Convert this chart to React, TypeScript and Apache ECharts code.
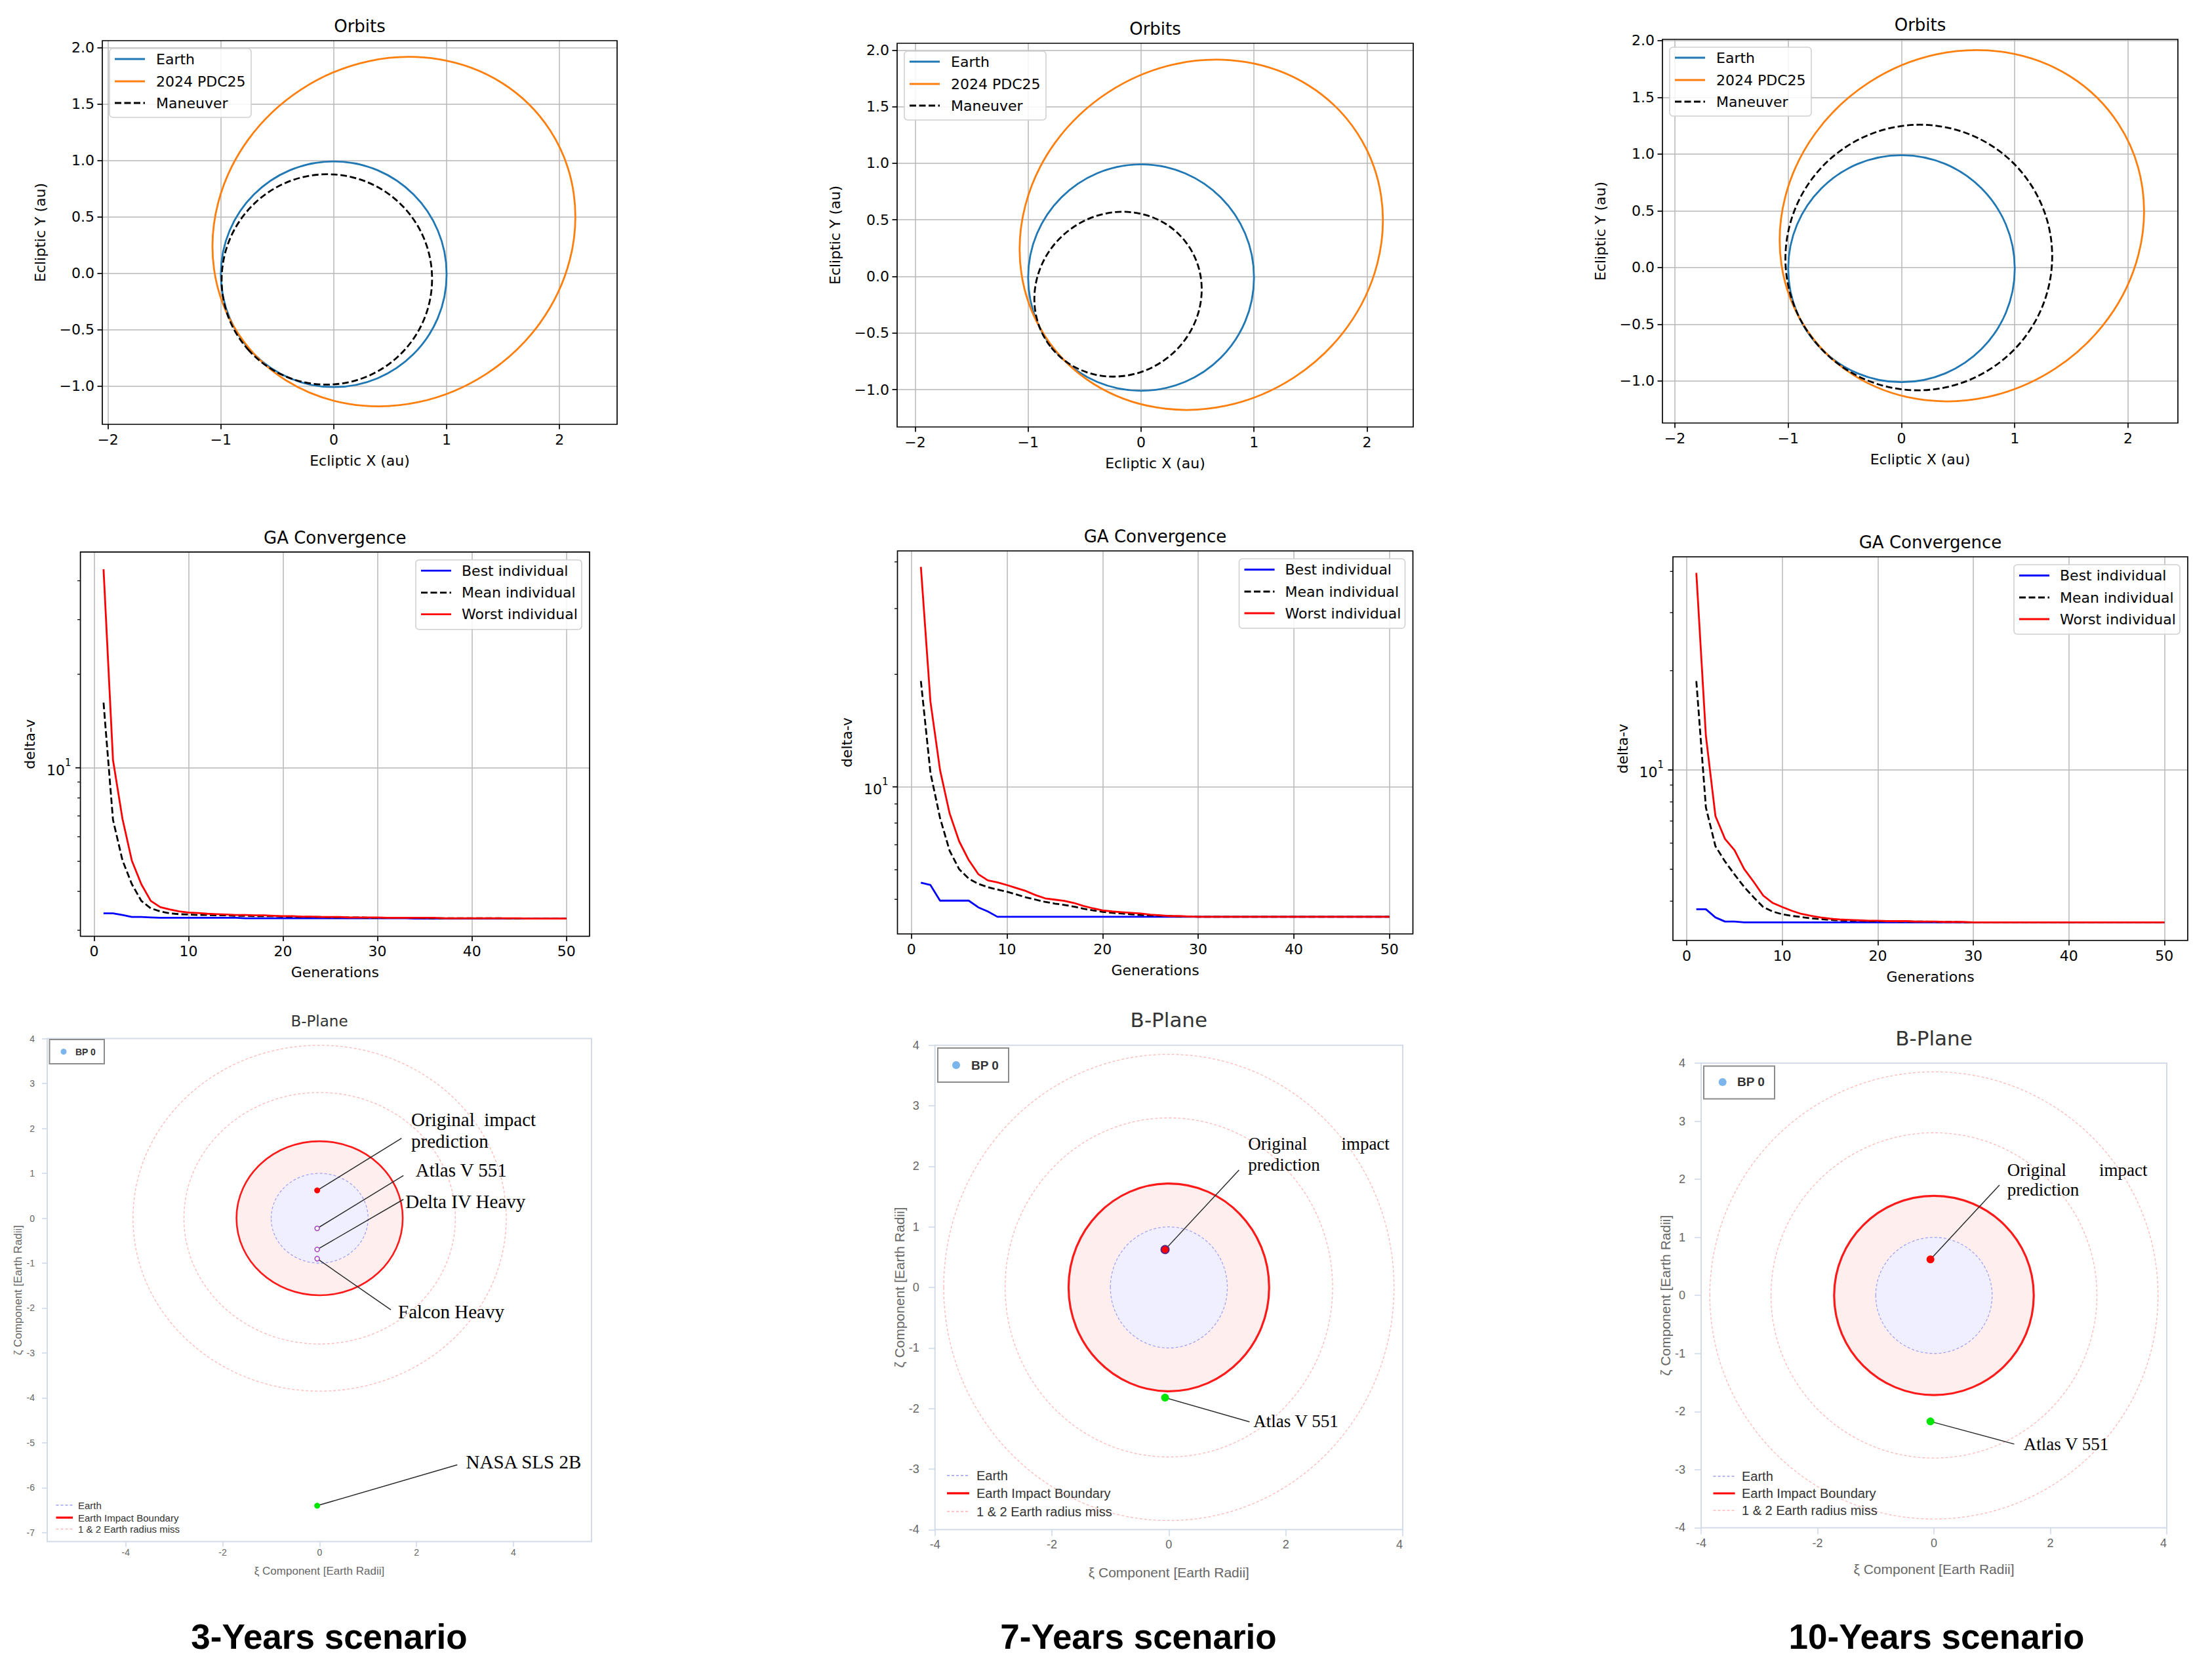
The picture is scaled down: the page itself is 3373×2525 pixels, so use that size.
import React, { useEffect, useRef } from "react";
import * as echarts from "echarts";

// ===================== DATA =====================
const scenarioLabels = ["3-Years scenario", "7-Years scenario", "10-Years scenario"];

// Orbits: [centre x, centre y, semi-axis a, semi-axis b, tilt in degrees] (au)
const earthOrbit = [0, -0.01, 1.0, 1.0, 0];
const asteroidOrbit = [0.533, 0.368, 1.648, 1.503, 33.0];
const maneuverOrbit3y = [-0.061, -0.056, 0.934, 0.93, 42.5];
const maneuverOrbit7y = [-0.204, -0.157, 0.757, 0.712, 37.6];
const maneuverOrbit10y = [0.153, 0.088, 1.18, 1.167, 29.9];
const orbitXTicks = [-2, -1, 0, 1, 2];
const orbitYTicks = [-1, -0.5, 0, 0.5, 1, 1.5, 2];

// GA convergence (delta-v per generation)
const generations = [
  1, 2, 3, 4, 5, 6, 7, 8, 9, 10, 11, 12, 13, 14, 15, 16, 17, 18, 19, 20, 21, 22, 23, 24, 25,
  26, 27, 28, 29, 30, 31, 32, 33, 34, 35, 36, 37, 38, 39, 40, 41, 42, 43, 44, 45, 46, 47, 48, 49, 50,
];
const best3y = [
  3.4, 3.4, 3.36, 3.31, 3.31, 3.3, 3.29, 3.29, 3.29, 3.29, 3.29, 3.29, 3.29, 3.29, 3.29, 3.28, 3.28,
  3.28, 3.28, 3.28, 3.28, 3.28, 3.28, 3.28, 3.28, 3.28, 3.28, 3.28, 3.28, 3.28, 3.28, 3.28, 3.28, 3.27,
  3.27, 3.27, 3.27, 3.27, 3.27, 3.27, 3.27, 3.27, 3.27, 3.27, 3.27, 3.27, 3.27, 3.27, 3.27, 3.27,
];
const mean3y = [
  16.2, 6.8, 5.04, 4.22, 3.73, 3.53, 3.45, 3.4, 3.38, 3.37, 3.36, 3.36, 3.35, 3.35, 3.34, 3.34, 3.33,
  3.33, 3.33, 3.32, 3.32, 3.31, 3.31, 3.31, 3.3, 3.3, 3.3, 3.3, 3.29, 3.29, 3.29, 3.29, 3.29, 3.29,
  3.28, 3.28, 3.28, 3.28, 3.28, 3.28, 3.28, 3.28, 3.28, 3.27, 3.27, 3.27, 3.27, 3.27, 3.27, 3.27,
];
const worst3y = [
  43.6, 10.6, 6.86, 5.02, 4.22, 3.73, 3.56, 3.5, 3.45, 3.42, 3.41, 3.39, 3.38, 3.37, 3.36, 3.36, 3.35,
  3.35, 3.34, 3.33, 3.33, 3.32, 3.32, 3.31, 3.31, 3.31, 3.3, 3.3, 3.3, 3.3, 3.29, 3.29, 3.29, 3.29,
  3.29, 3.29, 3.28, 3.28, 3.28, 3.28, 3.28, 3.28, 3.28, 3.28, 3.28, 3.27, 3.27, 3.27, 3.27, 3.27,
];
const best7y = [
  5.54, 5.46, 4.96, 4.96, 4.96, 4.96, 4.76, 4.64, 4.49, 4.49, 4.49, 4.49, 4.49, 4.49, 4.49, 4.49, 4.49,
  4.49, 4.49, 4.49, 4.49, 4.49, 4.49, 4.49, 4.49, 4.49, 4.49, 4.49, 4.49, 4.49, 4.49, 4.49, 4.49, 4.49,
  4.49, 4.49, 4.49, 4.49, 4.49, 4.49, 4.49, 4.49, 4.49, 4.49, 4.49, 4.49, 4.49, 4.49, 4.49, 4.49,
];
const mean7y = [
  19.2, 10.9, 8.26, 6.75, 6.02, 5.68, 5.5, 5.39, 5.31, 5.24, 5.15, 5.06, 4.99, 4.92, 4.87, 4.83, 4.78,
  4.72, 4.67, 4.63, 4.6, 4.58, 4.56, 4.54, 4.53, 4.52, 4.51, 4.5, 4.5, 4.49, 4.49, 4.49, 4.49, 4.49,
  4.49, 4.49, 4.49, 4.49, 4.49, 4.49, 4.49, 4.49, 4.49, 4.49, 4.49, 4.49, 4.49, 4.49, 4.49, 4.49,
];
const worst7y = [
  38.8, 16.9, 11.1, 8.5, 7.15, 6.37, 5.84, 5.62, 5.55, 5.46, 5.36, 5.26, 5.13, 5.03, 4.99, 4.95, 4.89,
  4.8, 4.73, 4.67, 4.64, 4.62, 4.6, 4.58, 4.55, 4.53, 4.51, 4.51, 4.5, 4.49, 4.49, 4.49, 4.49, 4.49,
  4.49, 4.49, 4.49, 4.49, 4.49, 4.49, 4.49, 4.49, 4.49, 4.49, 4.49, 4.49, 4.49, 4.49, 4.49, 4.49,
];
const best10y = [
  3.78, 3.78, 3.57, 3.47, 3.47, 3.45, 3.45, 3.45, 3.45, 3.45, 3.45, 3.45, 3.45, 3.45, 3.45, 3.45, 3.45,
  3.45, 3.45, 3.45, 3.45, 3.45, 3.45, 3.45, 3.45, 3.45, 3.45, 3.45, 3.45, 3.45, 3.45, 3.45, 3.45, 3.45,
  3.45, 3.45, 3.45, 3.45, 3.45, 3.45, 3.45, 3.45, 3.45, 3.45, 3.45, 3.45, 3.45, 3.45, 3.45, 3.45,
];
const mean10y = [
  18.6, 7.7, 5.87, 5.28, 4.82, 4.42, 4.11, 3.84, 3.72, 3.65, 3.61, 3.58, 3.55, 3.53, 3.51, 3.5, 3.49,
  3.49, 3.48, 3.48, 3.48, 3.47, 3.47, 3.47, 3.47, 3.46, 3.46, 3.46, 3.45, 3.45, 3.45, 3.45, 3.45, 3.45,
  3.45, 3.45, 3.45, 3.45, 3.45, 3.45, 3.45, 3.45, 3.45, 3.45, 3.45, 3.45, 3.45, 3.45, 3.45, 3.45,
];
const worst10y = [
  39.6, 12.7, 7.25, 6.18, 5.71, 5.01, 4.58, 4.16, 3.95, 3.84, 3.74, 3.66, 3.61, 3.57, 3.54, 3.52, 3.51,
  3.5, 3.49, 3.49, 3.48, 3.48, 3.48, 3.47, 3.47, 3.47, 3.46, 3.46, 3.46, 3.45, 3.45, 3.45, 3.45, 3.45,
  3.45, 3.45, 3.45, 3.45, 3.45, 3.45, 3.45, 3.45, 3.45, 3.45, 3.45, 3.45, 3.45, 3.45, 3.45, 3.45,
];
const gaXTicks = [0, 10, 20, 30, 40, 50];
const gaMajorTicks = [10];
const gaMinorTicks = [2, 3, 4, 5, 6, 7, 8, 9, 20, 30, 40];

// B-plane (Earth radii)
const bpCenter = [0, 0];
const bpCircleRadii = [1, 1.715, 2.8, 3.85]; // Earth, impact boundary, +1 / +2 radius miss
const bp3yOriginal = [-0.05, 0.62];
const bp3yAtlas = [-0.05, -0.226];
const bp3yDelta = [-0.05, -0.695];
const bp3yFalcon = [-0.05, -0.9];
const bp3ySLS = [-0.05, -6.4];
const bp7yOriginal = [-0.065, 0.625];
const bp7yAtlas = [-0.065, -1.82];
const bp10yOriginal = [-0.06, 0.62];
const bp10yAtlas = [-0.06, -2.17];
const bpXTicks = [-4, -2, 0, 2, 4];
const bpYTicks3y = [-7, -6, -5, -4, -3, -2, -1, 0, 1, 2, 3, 4];
const bpYTicks = [-4, -3, -2, -1, 0, 1, 2, 3, 4];

// ===================== STYLE / LAYOUT =====================
const FONT_MPL = "'DejaVu Sans', 'Liberation Sans', sans-serif";
const FONT_HC = "'Liberation Sans', Arial, sans-serif";
const FONT_SERIF = "'Liberation Serif', 'Times New Roman', serif";

const near = (a: number, b: number) => Math.abs(a - b) < 1e-6;
const inTicks = (ticks: number[], v: number) => ticks.some((t) => near(t, v));
const mplMinus = (s: string) => s.replace("-", "\u2212");

function gText(x: number, y: number, text: string, size: number, family: string, opt: any = {}) {
  const align = opt.align || "left";
  return {
    type: "text",
    x,
    y,
    z: 20,
    silent: true,
    style: {
      text,
      fill: opt.color || "#000",
      fontSize: size,
      fontFamily: family,
      fontWeight: opt.weight || "normal",
      align,
      textAlign: align,
      verticalAlign: "middle",
      textVerticalAlign: "middle",
    },
  };
}

function ellipseSeries(gi: number, name: string, params: number[], color: string, dash: number[] | null, z: number) {
  return {
    type: "custom",
    name,
    xAxisIndex: gi,
    yAxisIndex: gi,
    coordinateSystem: "cartesian2d",
    silent: true,
    clip: true,
    z,
    data: [params],
    renderItem: (_p: any, api: any) => {
      const c = api.coord([api.value(0), api.value(1)]);
      const s = api.size([api.value(2), api.value(3)]);
      const style: any = { fill: "none", stroke: color, lineWidth: 2.8 };
      if (dash) style.lineDash = dash;
      return {
        type: "ellipse",
        x: c[0],
        y: c[1],
        rotation: (api.value(4) * Math.PI) / 180,
        shape: { cx: 0, cy: 0, rx: s[0], ry: s[1] },
        style,
      };
    },
  };
}

function circleSeries(gi: number, name: string, r: number, style: any, z: number) {
  return {
    type: "custom",
    name,
    xAxisIndex: gi,
    yAxisIndex: gi,
    coordinateSystem: "cartesian2d",
    silent: true,
    clip: true,
    z,
    data: [[bpCenter[0], bpCenter[1], r]],
    renderItem: (_p: any, api: any) => {
      const c = api.coord([api.value(0), api.value(1)]);
      const s = api.size([api.value(2), api.value(2)]);
      return { type: "ellipse", shape: { cx: c[0], cy: c[1], rx: s[0], ry: s[1] }, style };
    },
  };
}

function mplAxis(
  gi: number,
  dim: "x" | "y",
  range: number[],
  ticks: number[] | null,
  fmt: (v: number) => string,
  name: string,
  nameGap: number,
  log = false,
  extraLabel: any = {}
) {
  const ax: any = {
    type: log ? "log" : "value",
    gridIndex: gi,
    min: range[0],
    max: range[1],
    position: dim === "x" ? "bottom" : "left",
    axisLine: { show: false, onZero: false },
    axisTick: { show: !log, inside: false, length: 7.5, lineStyle: { color: "#000", width: 1.7 } },
    axisLabel: {
      show: true,
      margin: 12,
      color: "#000",
      fontFamily: FONT_MPL,
      fontSize: 22,
      formatter: (v: number) => (ticks ? (inTicks(ticks, v) ? fmt(v) : "") : fmt(v)),
      ...extraLabel,
    },
    splitLine: { show: true, lineStyle: { color: "#b7b7b7", width: 1.5 } },
    name,
    nameLocation: "middle",
    nameGap,
    nameMoveOverlap: false,
    nameTextStyle: { fontFamily: FONT_MPL, fontSize: 22, color: "#000" },
  };
  if (log) ax.logBase = 10;
  if (ticks) {
    ax.axisTick.customValues = ticks;
    ax.axisLabel.customValues = ticks;
  }
  return ax;
}

function mplLegend(
  graphic: any[],
  bx: number,
  by: number,
  bw: number,
  bh: number,
  entries: { label: string; color: string; dash?: number[] }[],
  rows: number[],
  lx0: number,
  lx1: number,
  tx: number
) {
  graphic.push({
    type: "rect",
    z: 15,
    silent: true,
    shape: { x: bx, y: by, width: bw, height: bh, r: 5 },
    style: { fill: "rgba(255,255,255,0.85)", stroke: "#d0d0d0", lineWidth: 1.6 },
  });
  entries.forEach((e, i) => {
    const y = by + rows[i];
    const st: any = { stroke: e.color, lineWidth: 2.8 };
    if (e.dash) st.lineDash = e.dash;
    graphic.push({ type: "line", z: 16, silent: true, shape: { x1: bx + lx0, y1: y, x2: bx + lx1, y2: y }, style: st });
    graphic.push(gText(bx + tx, y, e.label, 22, FONT_MPL));
  });
}

function buildOption() {
  const grid: any[] = [];
  const xAxis: any[] = [];
  const yAxis: any[] = [];
  const series: any[] = [];
  const title: any[] = [];
  const graphic: any[] = [];

  const mplGrid = { show: true, borderColor: "#000", borderWidth: 1.7, backgroundColor: "transparent", z: 5, outerBoundsMode: "none" };
  const addGrid = (r: any, st: any) => {
    grid.push({ ...r, ...st });
    return grid.length - 1;
  };
  const mplTitle = (text: string, cx: number, cy: number) =>
    title.push({
      text,
      left: cx,
      top: cy,
      textAlign: "center",
      textVerticalAlign: "middle",
      padding: 0,
      textStyle: { fontFamily: FONT_MPL, fontSize: 26, fontWeight: "normal", color: "#000" },
    });

  // ---------- Row 1: Orbits ----------
  const orbitLayouts = [
    { rect: { left: 156, top: 62, width: 785, height: 585 }, x: [-2.05, 2.51], y: [-1.34, 2.06] },
    { rect: { left: 1368, top: 66, width: 787, height: 585 }, x: [-2.16, 2.41], y: [-1.33, 2.06] },
    { rect: { left: 2535, top: 60, width: 786, height: 585 }, x: [-2.11, 2.44], y: [-1.37, 2.01] },
  ];
  const maneuvers = [maneuverOrbit3y, maneuverOrbit7y, maneuverOrbit10y];
  orbitLayouts.forEach((L, k) => {
    const gi = addGrid(L.rect, mplGrid);
    xAxis.push(mplAxis(gi, "x", L.x, orbitXTicks, (v) => mplMinus(String(Math.round(v))), "Ecliptic X (au)", 44));
    yAxis.push(mplAxis(gi, "y", L.y, orbitYTicks, (v) => mplMinus(v.toFixed(1)), "Ecliptic Y (au)", 84));
    series.push(ellipseSeries(gi, "Earth", earthOrbit, "#1f77b4", null, 2));
    series.push(ellipseSeries(gi, "2024 PDC25", asteroidOrbit, "#ff7f0e", null, 3));
    series.push(ellipseSeries(gi, "Maneuver", maneuvers[k], "#000000", [10, 4.5], 4));
    mplTitle("Orbits", L.rect.left + L.rect.width / 2, L.rect.top - 22);
    mplLegend(
      graphic,
      L.rect.left + 11,
      L.rect.top + 12,
      216,
      105,
      [
        { label: "Earth", color: "#1f77b4" },
        { label: "2024 PDC25", color: "#ff7f0e" },
        { label: "Maneuver", color: "#000", dash: [10, 4.5] },
      ],
      [16, 50, 83],
      8,
      54,
      71
    );
  });

  // ---------- Row 2: GA convergence ----------
  const gaLayouts = [
    { rect: { left: 122.6, top: 841.7, width: 776.4, height: 585.8 }, y: [2.87, 49.5] },
    { rect: { left: 1368.5, top: 840, width: 786, height: 584 }, y: [4.04, 42.8] },
    { rect: { left: 2551, top: 849, width: 785, height: 585 }, y: [3.04, 44.3] },
  ];
  const gaX = [-1.45, 52.45];
  const gaSets = [
    [best3y, mean3y, worst3y],
    [best7y, mean7y, worst7y],
    [best10y, mean10y, worst10y],
  ];
  gaLayouts.forEach((L, k) => {
    const gi = addGrid(L.rect, mplGrid);
    xAxis.push(mplAxis(gi, "x", gaX, gaXTicks, (v) => String(Math.round(v)), "Generations", 44));
    yAxis.push(
      mplAxis(gi, "y", L.y, null, (v) => (near(v, 10) ? "{a|10}{b|1}" : ""), "delta-v", 66, true, {
        margin: 14,
        rich: {
          a: { fontFamily: FONT_MPL, fontSize: 22, color: "#000", lineHeight: 30, verticalAlign: "bottom" },
          b: { fontFamily: FONT_MPL, fontSize: 15, color: "#000", lineHeight: 16, verticalAlign: "top" },
        },
      })
    );
    const [best, mean, worst] = gaSets[k];
    const mk = (name: string, arr: number[], color: string, type: any, z: number) => ({
      type: "line",
      name,
      xAxisIndex: gi,
      yAxisIndex: gi,
      data: generations.map((g, i) => [g, arr[i]]),
      showSymbol: false,
      symbol: "none",
      silent: true,
      z,
      lineStyle: { color, width: 2.8, type },
    });
    series.push(mk("Best individual", best, "#0000ff", "solid", 3));
    series.push(mk("Mean individual", mean, "#000000", [10, 4.5], 3));
    series.push(mk("Worst individual", worst, "#ff0000", "solid", 4));
    // log-axis tick marks (major at 10, minor at 2..9, 20..90)
    const tickData = gaMinorTicks
      .filter((v) => v > L.y[0] && v < L.y[1])
      .map((v) => [0, v, 0])
      .concat(gaMajorTicks.map((v) => [0, v, 1]));
    series.push({
      type: "custom",
      xAxisIndex: gi,
      yAxisIndex: gi,
      coordinateSystem: "cartesian2d",
      silent: true,
      clip: false,
      z: 6,
      data: tickData,
      renderItem: (params: any, api: any) => {
        const y = api.coord([0, api.value(1)])[1];
        const x = params.coordSys.x;
        const major = api.value(2) === 1;
        const len = major ? 7.5 : 4.5;
        return {
          type: "line",
          shape: { x1: x - len, y1: y, x2: x, y2: y },
          style: { stroke: "#000", lineWidth: major ? 1.7 : 1.3 },
        };
      },
    });
    mplTitle("GA Convergence", L.rect.left + L.rect.width / 2, L.rect.top - 22);
    const bw = 253;
    mplLegend(
      graphic,
      L.rect.left + L.rect.width - 12 - bw,
      L.rect.top + 12,
      bw,
      106,
      [
        { label: "Best individual", color: "#0000ff" },
        { label: "Mean individual", color: "#000", dash: [10, 4.5] },
        { label: "Worst individual", color: "#ff0000" },
      ],
      [16.5, 50, 83],
      8,
      54,
      70
    );
  });

  // ---------- Row 3: B-plane ----------
  const bpLayouts = [
    {
      rect: { left: 72, top: 1583.6, width: 830, height: 767 },
      x: [-5.62, 5.61],
      y: [-7.2, 4],
      yTicks: bpYTicks3y,
      tickFont: 14,
      titleFont: 23,
      titleDy: 27,
      nameFont: 17,
      nameGapX: 36,
      nameGapY: 36,
      marginX: 9,
      marginY: 19,
      tickLen: 8,
      annFont: 29,
      legFont: 15,
      legLine: [13.5, 39],
      legText: 47,
      legRows: [-55.6, -36.6, -19.1],
      bp0: { dx: 3.5, dy: 1.4, w: 83.5, h: 37, dot: [21.5, 18.5], r: 4.5, tx: 39.5, font: 14 },
    },
    {
      rect: { left: 1425.7, top: 1593.7, width: 713.3, height: 738.6 },
      x: [-4, 4],
      y: [-4, 4],
      yTicks: bpYTicks,
      tickFont: 18,
      titleFont: 31,
      titleDy: 38.7,
      nameFont: 21,
      nameGapX: 55,
      nameGapY: 44,
      marginX: 14,
      marginY: 24,
      tickLen: 10,
      annFont: 27,
      legFont: 20,
      legLine: [18.3, 52.3],
      legText: 63.3,
      legRows: [-82.5, -55.4, -27.7],
      bp0: { dx: 4.3, dy: 4.3, w: 108, h: 52, dot: [28, 26], r: 6, tx: 51, font: 19 },
    },
    {
      rect: { left: 2594, top: 1621, width: 710, height: 708.4 },
      x: [-4, 4],
      y: [-4, 4],
      yTicks: bpYTicks,
      tickFont: 18,
      titleFont: 31,
      titleDy: 38,
      nameFont: 21,
      nameGapX: 53,
      nameGapY: 44,
      marginX: 15,
      marginY: 24,
      tickLen: 10,
      annFont: 27,
      legFont: 20,
      legLine: [18.5, 51.6],
      legText: 62,
      legRows: [-78.4, -52.4, -26.4],
      bp0: { dx: 4, dy: 4.4, w: 108, h: 50, dot: [28.7, 24.5], r: 6, tx: 51, font: 19 },
    },
  ];

  // marks and annotation layout (label anchors in data coordinates)
  const bpPoints = [
    [
      { name: "Original impact prediction", p: bp3yOriginal, st: { color: "#ff0000" }, size: 9 },
      { name: "Atlas V 551", p: bp3yAtlas, st: { color: "#ffffff", borderColor: "#a64dbf", borderWidth: 1.6 }, size: 7 },
      { name: "Delta IV Heavy", p: bp3yDelta, st: { color: "#ffffff", borderColor: "#a64dbf", borderWidth: 1.6 }, size: 7 },
      { name: "Falcon Heavy", p: bp3yFalcon, st: { color: "#ffffff", borderColor: "#a64dbf", borderWidth: 1.6 }, size: 7 },
      { name: "NASA SLS 2B", p: bp3ySLS, st: { color: "#00e600" }, size: 9 },
    ],
    [
      { name: "Original impact prediction", p: bp7yOriginal, st: { color: "#ff0000", borderColor: "#5a2480", borderWidth: 2 }, size: 12 },
      { name: "Atlas V 551", p: bp7yAtlas, st: { color: "#00e600" }, size: 12 },
    ],
    [
      { name: "Original impact prediction", p: bp10yOriginal, st: { color: "#ff0000" }, size: 12 },
      { name: "Atlas V 551", p: bp10yAtlas, st: { color: "#00e600" }, size: 12 },
    ],
  ];
  const bpAnnotations = [
    [
      { p: bp3yOriginal, end: [1.69, 1.78], labels: [{ t: "Original  impact", at: [1.89, 2.2] }, { t: "prediction", at: [1.89, 1.72] }] },
      { p: bp3yAtlas, end: [1.73, 0.95], labels: [{ t: "Atlas V 551", at: [1.98, 1.08] }] },
      { p: bp3yDelta, end: [1.73, 0.42], labels: [{ t: "Delta IV Heavy", at: [1.77, 0.38] }] },
      { p: bp3yFalcon, end: [1.47, -2.04], labels: [{ t: "Falcon Heavy", at: [1.62, -2.08] }] },
      { p: bp3ySLS, end: [2.84, -5.49], labels: [{ t: "NASA SLS 2B", at: [3.02, -5.43] }] },
    ],
    [
      {
        p: bp7yOriginal,
        end: [1.2, 1.94],
        labels: [
          { t: "Original", at: [1.357, 2.375] },
          { t: "impact", at: [2.95, 2.375] },
          { t: "prediction", at: [1.357, 2.03] },
        ],
      },
      { p: bp7yAtlas, end: [1.38, -2.22], labels: [{ t: "Atlas V 551", at: [1.445, -2.21] }] },
    ],
    [
      {
        p: bp10yOriginal,
        end: [1.125, 1.9],
        labels: [
          { t: "Original", at: [1.26, 2.16] },
          { t: "impact", at: [2.84, 2.16] },
          { t: "prediction", at: [1.26, 1.82] },
        ],
      },
      { p: bp10yAtlas, end: [1.38, -2.56], labels: [{ t: "Atlas V 551", at: [1.54, -2.56] }] },
    ],
  ];

  bpLayouts.forEach((L, k) => {
    const gi = addGrid(L.rect, {
      show: true,
      borderColor: "#d3dae8",
      borderWidth: 2,
      backgroundColor: "transparent",
      z: 5,
      outerBoundsMode: "none",
    });
    const hcAxis = (dim: "x" | "y", range: number[], ticks: number[], name: string, gap: number, margin: number) => ({
      type: "value",
      gridIndex: gi,
      min: range[0],
      max: range[1],
      position: dim === "x" ? "bottom" : "left",
      splitNumber: dim === "y" && k === 0 ? 11 : 5,
      axisLine: { show: false, onZero: false },
      axisTick: { show: true, length: L.tickLen, lineStyle: { color: "#ccd6eb", width: 1.5 }, customValues: ticks },
      axisLabel: {
        show: true,
        margin,
        color: "#666666",
        fontFamily: FONT_HC,
        fontSize: L.tickFont,
        customValues: ticks,
        alignMaxLabel: dim === "x" && k > 0 ? "right" : undefined,
        formatter: (v: number) => (inTicks(ticks, v) ? String(Math.round(v)) : ""),
      },
      splitLine: { show: false },
      name,
      nameLocation: "middle",
      nameGap: gap,
      nameMoveOverlap: false,
      nameTextStyle: { fontFamily: FONT_HC, fontSize: L.nameFont, color: "#666666" },
    });
    xAxis.push(hcAxis("x", L.x, bpXTicks, "\u03be Component [Earth Radii]", L.nameGapX, L.marginX));
    yAxis.push(hcAxis("y", L.y, L.yTicks, "\u03b6 Component [Earth Radii]", L.nameGapY, L.marginY));

    series.push(
      circleSeries(gi, "Earth Impact Boundary", bpCircleRadii[1], { fill: "#feeeee", stroke: "#ff1a1a", lineWidth: k === 0 ? 2.6 : 3.2 }, 2)
    );
    series.push(
      circleSeries(gi, "Earth", bpCircleRadii[0], { fill: "#efefff", stroke: "#a3a3f2", lineWidth: 1.3, lineDash: [4, 3] }, 3)
    );
    series.push(
      circleSeries(gi, "1 Earth radius miss", bpCircleRadii[2], { fill: "none", stroke: "#ffb8b8", lineWidth: 1.3, lineDash: [4, 3] }, 3)
    );
    series.push(
      circleSeries(gi, "2 Earth radius miss", bpCircleRadii[3], { fill: "none", stroke: "#ffb8b8", lineWidth: 1.3, lineDash: [4, 3] }, 3)
    );

    const anns = bpAnnotations[k];
    const annFont = L.annFont;
    series.push({
      type: "custom",
      name: "annotations",
      xAxisIndex: gi,
      yAxisIndex: gi,
      coordinateSystem: "cartesian2d",
      silent: true,
      clip: false,
      z: 4,
      data: anns.map((a) => [a.p[0], a.p[1]]),
      renderItem: (params: any, api: any) => {
        const a = anns[params.dataIndex];
        const p0 = api.coord([api.value(0), api.value(1)]);
        const p1 = api.coord(a.end);
        const children: any[] = [
          { type: "line", shape: { x1: p0[0], y1: p0[1], x2: p1[0], y2: p1[1] }, style: { stroke: "#2a2a2a", lineWidth: 1.5 } },
        ];
        a.labels.forEach((l) => {
          const q = api.coord(l.at);
          children.push({
            type: "text",
            x: q[0],
            y: q[1],
            style: {
              text: l.t,
              fill: "#000",
              fontSize: annFont,
              fontFamily: FONT_SERIF,
              align: "left",
              verticalAlign: "middle",
            },
          });
        });
        return { type: "group", children };
      },
    });

    bpPoints[k].forEach((pt) => {
      series.push({
        type: "scatter",
        name: pt.name,
        xAxisIndex: gi,
        yAxisIndex: gi,
        data: [pt.p],
        symbol: "circle",
        symbolSize: pt.size,
        silent: true,
        z: 7,
        itemStyle: { opacity: 1, ...pt.st },
      });
    });

    // title
    title.push({
      text: "B-Plane",
      left: L.rect.left + L.rect.width / 2,
      top: L.rect.top - L.titleDy,
      textAlign: "center",
      textVerticalAlign: "middle",
      padding: 0,
      textStyle: { fontFamily: FONT_MPL, fontSize: L.titleFont, fontWeight: "normal", color: "#333333" },
    });

    // "BP 0" legend box
    const b = L.bp0;
    const bx = L.rect.left + b.dx;
    const by = L.rect.top + b.dy;
    graphic.push({
      type: "rect",
      z: 15,
      silent: true,
      shape: { x: bx, y: by, width: b.w, height: b.h },
      style: { fill: "#ffffff", stroke: "#8c8c8c", lineWidth: 2 },
    });
    graphic.push({
      type: "circle",
      z: 16,
      silent: true,
      shape: { cx: bx + b.dot[0], cy: by + b.dot[1], r: b.r },
      style: { fill: "#7cb5ec" },
    });
    graphic.push(gText(bx + b.tx, by + b.dot[1], "BP 0", b.font, FONT_HC, { weight: "bold", color: "#333333" }));

    // bottom legend
    const bottom = L.rect.top + L.rect.height;
    const legEntries = [
      { label: "Earth", stroke: "#9d9df0", width: 1.6, dash: [4, 3] },
      { label: "Earth Impact Boundary", stroke: "#ff0000", width: 3.2, dash: null },
      { label: "1 & 2 Earth radius miss", stroke: "#ffb8b8", width: 1.6, dash: [4, 3] },
    ];
    legEntries.forEach((e, i) => {
      const y = bottom + L.legRows[i];
      const st: any = { stroke: e.stroke, lineWidth: e.width };
      if (e.dash) st.lineDash = e.dash;
      graphic.push({
        type: "line",
        z: 16,
        silent: true,
        shape: { x1: L.rect.left + L.legLine[0], y1: y, x2: L.rect.left + L.legLine[1], y2: y },
        style: st,
      });
      graphic.push(gText(L.rect.left + L.legText, y, e.label, L.legFont, FONT_HC, { color: "#333333" }));
    });
  });

  // scenario captions
  const capX = [502, 1736, 2953];
  scenarioLabels.forEach((s, i) => {
    graphic.push(gText(capX[i], 2495, s, 53, FONT_HC, { weight: "bold", align: "center" }));
  });

  return {
    animation: false,
    backgroundColor: "#ffffff",
    title,
    grid,
    xAxis,
    yAxis,
    series,
    graphic: { elements: graphic },
  };
}

export default function App() {
  const ref = useRef<HTMLDivElement>(null);
  useEffect(() => {
    document.body.style.margin = "0";
    if (!ref.current) return;
    const chart = echarts.init(ref.current, undefined, { renderer: "svg", width: 3373, height: 2525 });
    chart.setOption(buildOption() as any);
    return () => chart.dispose();
  }, []);
  return <div ref={ref} style={{ width: 3373, height: 2525, background: "#ffffff" }} />;
}
